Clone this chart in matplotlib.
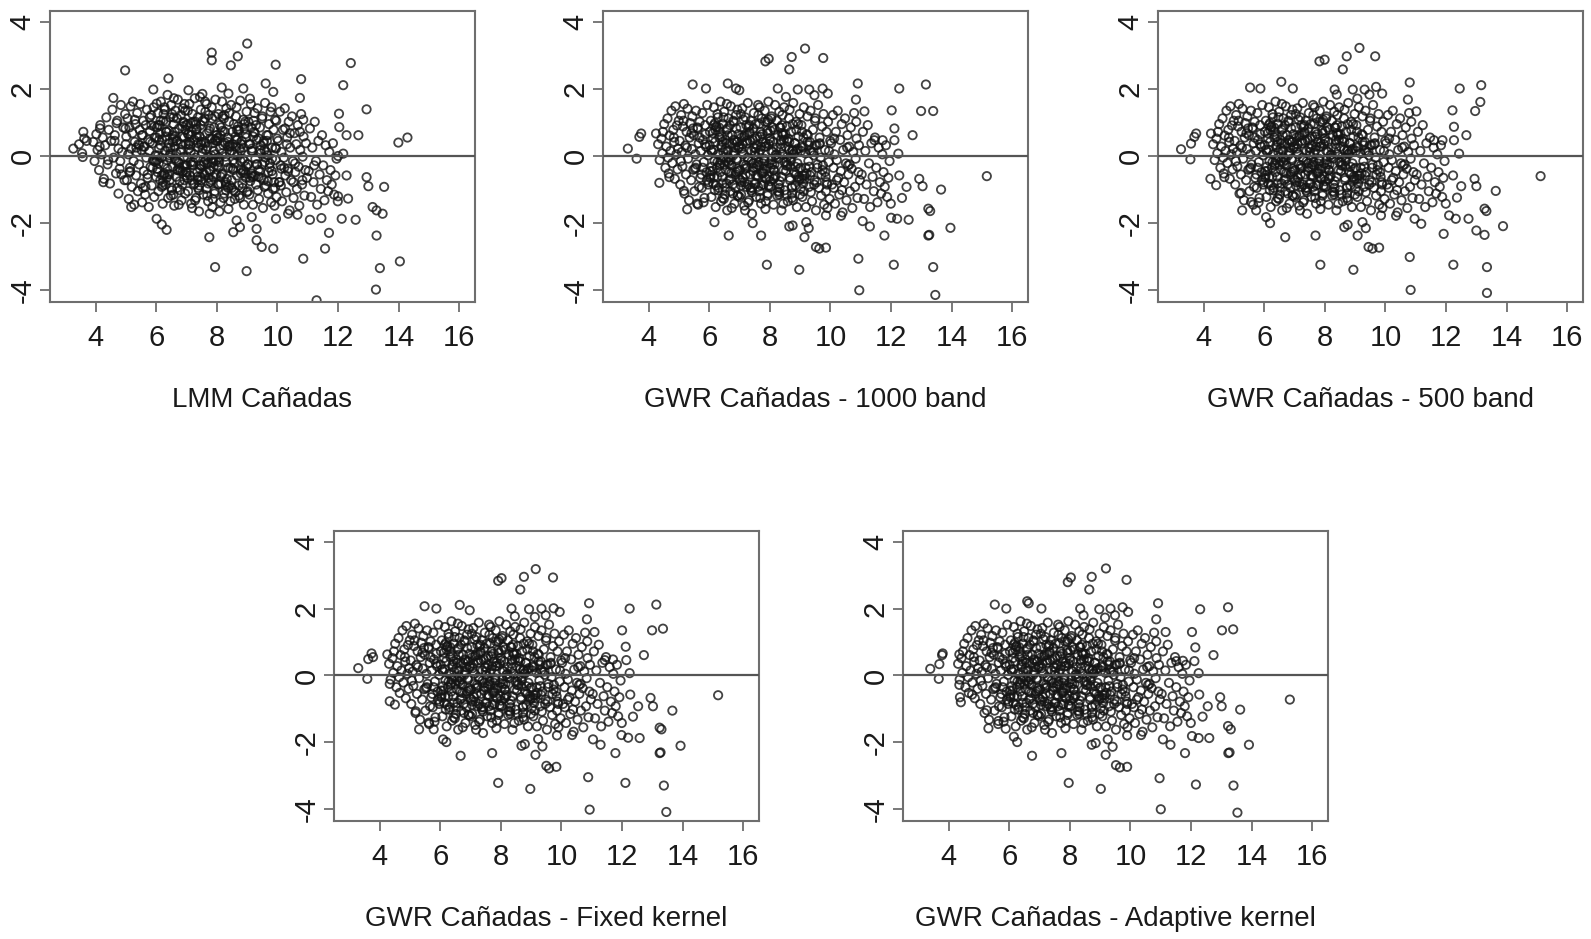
import numpy as np
import matplotlib
matplotlib.use('Agg')
from matplotlib import pyplot as plt

plt.rcParams['font.family'] = ['Liberation Sans', 'DejaVu Sans']
plt.rcParams['axes.unicode_minus'] = False

# Panel titles (x labels under each residual plot)
titles = ['LMM Cañadas', 'GWR Cañadas - 1000 band', 'GWR Cañadas - 500 band',
          'GWR Cañadas - Fixed kernel', 'GWR Cañadas - Adaptive kernel']
x_ticks = [4, 6, 8, 10, 12, 14, 16]
y_ticks = [-4, -2, 0, 2, 4]

# LMM: fitted values vs residuals, main cloud
lmm_x = [
    3.92, 3.96, 4.02, 4.06, 4.11, 4.15, 4.19, 4.23, 4.27, 4.31,
    4.35, 4.39, 4.43, 4.47, 4.51, 4.55, 4.59, 4.63, 4.67, 4.71,
    4.75, 4.79, 4.83, 4.87, 4.91, 4.95, 4.99, 4.13, 4.41, 4.69,
    4.85, 4.97,
    5.01, 5.03, 5.05, 5.07, 5.09, 5.11, 5.13, 5.15, 5.17, 5.19,
    5.21, 5.23, 5.25, 5.27, 5.29, 5.31, 5.33, 5.35, 5.37, 5.39,
    5.41, 5.43, 5.45, 5.47, 5.49, 5.51, 5.53, 5.55, 5.57, 5.59,
    5.61, 5.63, 5.65, 5.67, 5.69, 5.71, 5.73, 5.75, 5.77, 5.79,
    5.81, 5.83, 5.85, 5.87, 5.89, 5.91, 5.93, 5.95, 5.97, 5.99,
    5.12, 5.34, 5.56, 5.78, 5.94,
    6.01, 6.03, 6.05, 6.07, 6.09, 6.11, 6.13, 6.15, 6.17, 6.19,
    6.21, 6.23, 6.25, 6.27, 6.29, 6.31, 6.33, 6.35, 6.37, 6.39,
    6.41, 6.43, 6.45, 6.47, 6.49, 6.51, 6.53, 6.55, 6.57, 6.59,
    6.61, 6.63, 6.65, 6.67, 6.69, 6.71, 6.73, 6.75, 6.77, 6.79,
    6.81, 6.83, 6.85, 6.87, 6.89, 6.91, 6.93, 6.95, 6.97, 6.99,
    6.02, 6.08, 6.14, 6.22, 6.28, 6.36, 6.42, 6.48, 6.56, 6.62,
    6.68, 6.74, 6.82, 6.88, 6.94, 6.04, 6.18, 6.32, 6.46, 6.58,
    6.72, 6.86, 6.96, 6.12, 6.26, 6.44, 6.54, 6.66, 6.78, 6.92,
    6.06, 6.34, 6.52, 6.76, 6.98,
    7.01, 7.03, 7.05, 7.07, 7.09, 7.11, 7.13, 7.15, 7.17, 7.19,
    7.21, 7.23, 7.25, 7.27, 7.29, 7.31, 7.33, 7.35, 7.37, 7.39,
    7.41, 7.43, 7.45, 7.47, 7.49, 7.51, 7.53, 7.55, 7.57, 7.59,
    7.61, 7.63, 7.65, 7.67, 7.69, 7.71, 7.73, 7.75, 7.77, 7.79,
    7.81, 7.83, 7.85, 7.87, 7.89, 7.91, 7.93, 7.95, 7.97, 7.99,
    7.02, 7.08, 7.14, 7.22, 7.28, 7.34, 7.42, 7.48, 7.54, 7.62,
    7.68, 7.74, 7.82, 7.88, 7.94, 7.04, 7.16, 7.26, 7.38, 7.46,
    7.56, 7.66, 7.78, 7.86, 7.96, 7.06, 7.18, 7.32, 7.44, 7.58,
    7.64, 7.72, 7.84, 7.92, 7.98, 7.12, 7.36, 7.52, 7.76, 7.90,
    8.01, 8.03, 8.05, 8.07, 8.10, 8.12, 8.14, 8.17, 8.19, 8.21,
    8.24, 8.26, 8.28, 8.31, 8.33, 8.35, 8.38, 8.40, 8.42, 8.45,
    8.47, 8.49, 8.52, 8.54, 8.56, 8.59, 8.61, 8.63, 8.66, 8.68,
    8.70, 8.73, 8.75, 8.77, 8.80, 8.82, 8.84, 8.87, 8.89, 8.91,
    8.94, 8.96, 8.98, 8.02, 8.09, 8.16, 8.23, 8.30, 8.37, 8.44,
    8.51, 8.58, 8.65, 8.72, 8.79, 8.86, 8.93, 8.99, 8.06, 8.18,
    8.29, 8.41, 8.53, 8.64, 8.76, 8.88, 8.97, 8.13, 8.36, 8.57,
    8.08, 8.27, 8.48, 8.69, 8.85,
    9.02, 9.04, 9.07, 9.09, 9.12, 9.14, 9.17, 9.19, 9.22, 9.24,
    9.27, 9.29, 9.32, 9.34, 9.37, 9.39, 9.42, 9.44, 9.47, 9.49,
    9.52, 9.54, 9.57, 9.59, 9.62, 9.64, 9.67, 9.69, 9.72, 9.74,
    9.77, 9.79, 9.82, 9.84, 9.87, 9.89, 9.92, 9.94, 9.97, 9.99,
    9.05, 9.15, 9.25, 9.35, 9.45, 9.55, 9.65, 9.75, 9.85, 9.95,
    9.10, 9.30, 9.50, 9.70, 9.90, 9.20, 9.60, 9.80,
    10.02, 10.05, 10.08, 10.10, 10.13, 10.15, 10.18, 10.21, 10.24, 10.26,
    10.29, 10.32, 10.34, 10.37, 10.40, 10.42, 10.45, 10.48, 10.51, 10.53,
    10.56, 10.59, 10.62, 10.64, 10.67, 10.70, 10.72, 10.75, 10.78, 10.81,
    10.83, 10.86, 10.89, 10.92, 10.94, 10.97, 10.11, 10.35, 10.58, 10.85,
    10.25, 10.66,
    11.03, 11.07, 11.11, 11.15, 11.19, 11.23, 11.27, 11.31, 11.35, 11.39,
    11.43, 11.47, 11.51, 11.55, 11.59, 11.63, 11.67, 11.71, 11.75, 11.79,
    11.83, 11.87, 11.91, 11.95, 11.99, 11.45,
]
lmm_y = [
    0.42, -0.15, 0.65, 0.18, -0.42, 0.92, 0.05, 0.55, -0.68, 0.32,
    1.15, -0.25, 0.78, -0.82, 0.45, 1.38, -0.05, 0.62, -0.52, 1.05,
    0.22, -0.38, 1.52, 0.12, 0.85, -0.72, 0.35, 0.28, -0.12, 0.98,
    -0.55, 1.25,
    0.58, -0.72, 1.12, 0.05, -1.28, 0.85, -0.35, 1.48, 0.22, -0.92,
    0.68, 1.62, -0.15, -1.45, 0.42, 0.95, -0.58, 0.12, 1.28, -1.05,
    0.35, -0.25, 0.78, 1.55, -0.82, 0.18, -1.38, 0.62, 1.05, -0.45,
    0.28, -1.15, 0.92, -0.05, 1.38, -0.65, 0.48, -1.52, 0.15, 0.75,
    -0.32, 1.22, -0.88, 0.38, -0.12, 1.45, -1.22, 0.55, 0.02, -0.62,
    -0.48, 0.25, -0.95, 1.15, 0.88,
    0.55, -0.38, 1.28, -1.05, 0.22, 0.92, -0.72, 1.62, -0.05, 0.48,
    -1.42, 1.05, -0.25, 1.45, 0.15, -0.85, 0.72, -0.12, 1.82, -1.25,
    0.38, -0.55, 1.15, 0.08, 1.52, -1.02, 0.62, -0.32, 0.95, -1.48,
    0.28, 1.35, -0.62, 0.45, -0.95, 1.68, -0.18, 0.82, -0.75, 0.12,
    1.22, -1.32, 0.58, -0.45, 1.02, -0.02, 1.55, -1.12, 0.35, -0.58,
    0.85, -0.22, 0.32, -0.78, 1.38, -0.38, 0.75, -1.18, 0.52, -0.08,
    1.12, -1.45, 0.18, 1.42, -0.28, -0.48, -0.92, 1.02, 0.25, 1.72,
    -0.42, -0.85, 0.78, 0.65, -0.52, -0.72, 0.42, -0.15, -1.02, 0.55,
    0.02, -0.65, 1.25, -0.35, 0.92,
    -0.28, 0.95, -1.05, 0.35, 1.55, -0.58, 0.12, -1.42, 0.72, 1.25,
    -0.18, -0.85, 0.48, 1.72, -0.05, -1.25, 0.82, -0.48, 1.15, 0.25,
    -1.65, 0.58, -0.28, 1.38, -0.72, 0.08, 1.05, -1.15, 0.42, -0.55,
    1.62, -0.12, -0.98, 0.68, 0.28, -1.35, 1.22, -0.42, 0.52, -0.78,
    0.02, 1.45, -1.52, 0.38, -0.32, 0.85, -1.05, 1.68, -0.15, 0.62,
    -0.65, 0.22, -0.18, 1.02, -1.32, 0.55, -0.88, 0.35, -0.52, 1.32,
    -1.18, 0.75, -0.08, -0.62, 1.18, 1.35, -0.72, 0.05, -0.95, 0.92,
    -0.25, 1.55, -0.45, -1.28, 0.45, 0.65, -1.55, 0.78, -0.38, -0.18,
    0.18, -0.82, 1.12, -1.12, -0.55, 0.32, -0.62, 1.85, -1.72, 0.15,
    0.52, -0.85, 1.25, -0.18, 0.22, -1.38, 0.85, 1.62, -0.52, 0.32,
    -1.12, 0.72, -0.02, 1.42, -0.68, 0.42, -1.58, 1.02, 0.12, -0.35,
    1.52, -0.95, 0.35, -0.12, 0.95, -1.28, 0.58, 1.18, -0.58, 0.02,
    0.78, -1.18, 0.22, 1.65, -0.42, 0.45, -0.82, 1.08, -1.45, -0.15,
    0.65, -0.65, 1.32, -0.28, 0.92, -0.55, 1.12, -1.02, 0.28, -1.35,
    0.72, -0.22, 1.45, -0.88, 0.15, -0.48, 1.02, -1.08, -0.05, 0.08,
    -0.78, 1.28, -0.38, 0.48, -1.25, 0.25, -0.32, -0.62, 0.55, 0.05,
    -1.65, 0.38, -0.72, 0.88, -0.95,
    -0.25, 1.02, -1.15, 0.35, 1.55, -0.58, 0.15, -1.45, 0.72, 1.28,
    -0.08, -0.85, 0.48, 1.42, -0.42, -1.28, 0.85, 0.18, -0.65, 1.12,
    -1.55, 0.38, -0.18, 1.58, -0.88, 0.62, 0.02, -1.12, 0.95, -0.35,
    1.32, -1.38, 0.25, -0.55, 0.78, -0.78, 1.08, -0.12, -1.22, 0.52,
    0.35, -0.52, 0.68, -1.02, 0.08, -0.72, 0.45, -0.22, -0.98, 0.22,
    -0.75, -0.25, 1.18, -0.48, -1.48, 0.58, -0.05, 1.45,
    0.45, -0.78, 1.32, -0.28, 0.12, -1.35, 0.78, -0.05, 1.42, -0.58,
    -1.08, 0.55, -0.38, 1.02, -1.62, 0.25, -0.72, 1.18, -0.15, -1.25,
    0.68, -0.48, 0.35, -0.98, 0.92, -0.32, -1.48, 0.18, 1.25, -0.85,
    -0.02, 0.58, -1.18, -0.42, 0.38, -0.65, -0.88, -1.72, -0.22, 1.08,
    0.82, -1.75,
    -0.45, 0.82, -1.22, 0.25, -0.78, 1.02, -0.15, -1.45, 0.45, -0.55,
    -0.98, 0.62, -0.28, -1.32, 0.32, -0.72, -1.05, 0.12, -0.42, -0.85,
    0.38, -1.15, -0.58, -0.08, -1.35, -1.85,
]
# LMM: extra points in the darkest part of the cloud
lmm_dense_x = [
    5.58, 5.71, 5.84, 5.97, 6.09, 6.21, 6.33, 6.45, 6.57, 6.69,
    6.81, 6.93, 7.05, 7.17, 7.29, 7.41, 7.53, 7.65, 7.77, 7.89,
    8.01, 8.13, 8.25, 8.37, 8.49, 8.61, 8.73, 8.85, 8.97, 9.09,
    9.21, 9.33, 9.45, 9.57, 9.69, 9.81, 9.93, 10.07, 10.22, 10.41,
    5.64, 5.79, 5.93, 6.06, 6.19, 6.31, 6.44, 6.56, 6.68, 6.79,
    6.91, 7.03, 7.14, 7.26, 7.38, 7.49, 7.61, 7.72, 7.84, 7.95,
    8.07, 8.19, 8.31, 8.43, 8.55, 8.67, 8.79, 8.91, 9.03, 9.16,
    9.29, 9.42, 9.55, 9.68, 9.82, 9.96, 10.13, 10.31, 10.52, 10.74,
    6.02, 6.14, 6.26, 6.38, 6.50, 6.62, 6.74, 6.86, 6.98, 7.10,
    7.22, 7.34, 7.46, 7.58, 7.70, 7.82, 7.94, 8.06, 8.18, 8.30,
    8.42, 8.54, 8.66, 8.78, 8.90, 9.02, 9.14, 9.26, 9.38, 9.50,
    4.62, 4.81, 4.98, 5.14, 5.29, 5.44, 6.37, 6.61, 6.88, 7.13,
    7.37, 7.62, 7.87, 8.12, 8.37, 8.63, 8.88, 9.13, 9.38, 9.64,
    5.52, 5.88, 6.24, 6.66, 7.01, 7.31, 7.69, 8.04, 8.42, 8.81,
    9.18, 9.57, 9.92, 10.35, 10.82, 11.21, 6.95, 7.48, 8.22, 8.95,
]
lmm_dense_y = [
    0.28, -0.55, 0.92, -0.18, 0.48, -0.88, 0.72, -0.05, 1.15, -0.42,
    0.35, -0.72, 0.65, -0.25, 1.02, -1.02, 0.22, -0.48, 0.82, -0.12,
    0.45, -0.82, 1.22, -0.35, 0.15, -1.08, 0.75, -0.08, 0.55, -0.65,
    1.05, -0.25, 0.32, -0.92, 0.62, -0.45, 0.25, -0.78, -0.35, 0.68,
    -0.92, 0.42, -0.15, 0.92, -0.58, 0.58, 0.02, -1.15, 0.45, -0.45,
    0.98, -0.05, 0.62, -0.82, 0.38, -0.28, 1.12, -0.65, 0.52, 0.05,
    -0.85, 0.75, -0.18, 0.28, -1.02, 0.48, -0.52, 0.82, -0.25, 0.22,
    0.92, -0.45, 0.45, -0.75, -0.08, 1.05, -0.38, 0.35, -0.78, 0.72,
    -0.12, 1.05, -0.55, 0.25, -0.95, 0.58, -0.22, 0.88, -0.48, 0.42,
    -0.28, 0.65, -0.62, 1.02, -0.02, -0.72, 0.48, -0.35, 1.18, -0.85,
    0.32, -0.42, 0.78, -0.15, 0.95, -1.05, 0.15, -0.58, 0.52, -0.25,
    0.45, -0.15, 0.82, -0.45, 1.08, 0.32, -0.55, 0.72, -0.32, 0.98,
    -0.72, 0.38, -0.18, 0.62, -0.95, 0.28, -0.42, 0.85, -0.62, 0.12,
    0.62, -0.35, 1.25, 0.08, -0.48, 0.95, -0.22, 0.55, -0.88, 0.35,
    -0.62, 0.18, -0.95, -0.45, -0.72, -0.28, 1.35, 0.42, -1.25, -0.52,
]
# LMM: scattered points outside the main cloud (x, residual)
lmm_outer = [
    (3.26, 0.22), (3.45, 0.35), (3.55, 0.08), (3.57, -0.03), (3.59, 0.72),
    (3.62, 0.52), (3.70, 0.45), (4.14, 0.82), (4.25, -0.78), (4.58, 1.73),
    (4.75, -1.12), (4.97, 2.55), (5.17, -1.52), (5.90, 1.98), (6.01, 1.56),
    (6.01, -1.87), (6.18, -2.04), (6.34, -2.20), (6.40, 2.31), (7.06, 1.96),
    (7.44, 1.76), (7.75, -2.42), (7.83, 3.08), (7.83, 2.85), (7.94, -3.31),
    (8.16, 2.04), (8.38, 1.86), (8.46, 2.70), (8.54, -2.27), (8.65, -1.92),
    (8.69, 2.97), (8.76, -2.12), (8.87, 2.01), (8.98, -3.43), (9.00, 3.35),
    (9.09, 1.71), (9.15, -1.82), (9.31, -2.17), (9.31, -2.51), (9.48, -2.71),
    (9.61, 2.16), (9.86, 1.91), (9.86, -2.76), (9.94, 2.72), (9.95, -1.87),
    (10.74, 1.73), (10.78, 2.29), (10.85, -3.06), (11.07, -1.90), (11.29, -4.30),
    (11.57, -2.76), (11.70, -2.29), (12.00, 0.00), (12.00, -1.20), (12.03, 1.26),
    (12.04, 0.86), (12.12, -1.87), (12.17, 2.11), (12.17, 0.07), (12.28, 0.62),
    (12.28, -0.58), (12.33, -1.27), (12.42, 2.77), (12.58, -1.90), (12.67, 0.62),
    (12.94, 1.39), (12.94, -0.63), (13.00, -0.90), (13.14, -1.52), (13.25, -3.98),
    (13.27, -1.62), (13.27, -2.37), (13.38, -3.34), (13.47, -1.72), (13.52, -0.92),
    (13.99, 0.40), (14.04, -3.14), (14.29, 0.55),
]

# GWR models: the main clouds look the same in all four panels
gwr_x = [
    4.31, 4.36, 4.42, 4.45, 4.51, 4.55, 4.58, 4.62, 4.66, 4.69,
    4.72, 4.75, 4.78, 4.81, 4.84, 4.86, 4.88, 4.91, 4.93, 4.95,
    4.97, 4.99, 4.47, 4.64, 4.83,
    5.02, 5.04, 5.07, 5.09, 5.11, 5.13, 5.16, 5.18, 5.21, 5.23,
    5.25, 5.28, 5.30, 5.33, 5.35, 5.37, 5.40, 5.42, 5.44, 5.47,
    5.49, 5.51, 5.54, 5.56, 5.58, 5.61, 5.63, 5.65, 5.68, 5.70,
    5.72, 5.75, 5.77, 5.79, 5.82, 5.84, 5.86, 5.89, 5.91, 5.93,
    5.96, 5.98, 5.06, 5.26, 5.46, 5.66, 5.87, 5.15, 5.55, 5.81,
    6.01, 6.03, 6.05, 6.07, 6.09, 6.11, 6.13, 6.15, 6.17, 6.19,
    6.21, 6.23, 6.25, 6.27, 6.29, 6.31, 6.33, 6.35, 6.37, 6.39,
    6.41, 6.43, 6.45, 6.47, 6.49, 6.51, 6.53, 6.55, 6.57, 6.59,
    6.61, 6.63, 6.65, 6.67, 6.69, 6.71, 6.73, 6.75, 6.77, 6.79,
    6.81, 6.83, 6.85, 6.87, 6.89, 6.91, 6.93, 6.95, 6.97, 6.99,
    6.02, 6.08, 6.14, 6.22, 6.28, 6.36, 6.42, 6.48, 6.56, 6.62,
    6.68, 6.74, 6.82, 6.88, 6.94, 6.04, 6.18, 6.32, 6.46, 6.58,
    6.72, 6.86, 6.96, 6.12, 6.26, 6.44, 6.54, 6.66, 6.78, 6.92,
    7.01, 7.03, 7.05, 7.07, 7.09, 7.11, 7.13, 7.15, 7.17, 7.19,
    7.21, 7.23, 7.25, 7.27, 7.29, 7.31, 7.33, 7.35, 7.37, 7.39,
    7.41, 7.43, 7.45, 7.47, 7.49, 7.51, 7.53, 7.55, 7.57, 7.59,
    7.61, 7.63, 7.65, 7.67, 7.69, 7.71, 7.73, 7.75, 7.77, 7.79,
    7.81, 7.83, 7.85, 7.87, 7.89, 7.91, 7.93, 7.95, 7.97, 7.99,
    7.02, 7.08, 7.14, 7.22, 7.28, 7.34, 7.42, 7.48, 7.54, 7.62,
    7.68, 7.74, 7.82, 7.88, 7.94, 7.04, 7.16, 7.26, 7.38, 7.46,
    7.56, 7.66, 7.78, 7.86, 7.96, 7.06, 7.18, 7.32, 7.44, 7.58,
    7.64, 7.72, 7.84, 7.92, 7.98,
    8.01, 8.03, 8.05, 8.07, 8.10, 8.12, 8.14, 8.17, 8.19, 8.21,
    8.24, 8.26, 8.28, 8.31, 8.33, 8.35, 8.38, 8.40, 8.42, 8.45,
    8.47, 8.49, 8.52, 8.54, 8.56, 8.59, 8.61, 8.63, 8.66, 8.68,
    8.70, 8.73, 8.75, 8.77, 8.80, 8.82, 8.84, 8.87, 8.89, 8.91,
    8.94, 8.96, 8.98, 8.02, 8.09, 8.16, 8.23, 8.30, 8.37, 8.44,
    8.51, 8.58, 8.65, 8.72, 8.79, 8.86, 8.93, 8.99, 8.06, 8.18,
    8.29, 8.41, 8.53, 8.64, 8.76, 8.88, 8.97, 8.13, 8.36, 8.57,
    9.02, 9.04, 9.07, 9.09, 9.12, 9.14, 9.17, 9.19, 9.22, 9.24,
    9.27, 9.29, 9.32, 9.34, 9.37, 9.39, 9.42, 9.44, 9.47, 9.49,
    9.52, 9.54, 9.57, 9.59, 9.62, 9.64, 9.67, 9.69, 9.72, 9.74,
    9.77, 9.79, 9.82, 9.84, 9.87, 9.89, 9.92, 9.94, 9.97, 9.99,
    9.05, 9.15, 9.25, 9.35, 9.45, 9.55, 9.65, 9.75, 9.85, 9.95,
    9.10, 9.30, 9.50, 9.70, 9.90,
    10.02, 10.05, 10.08, 10.10, 10.13, 10.15, 10.18, 10.21, 10.24, 10.26,
    10.29, 10.32, 10.34, 10.37, 10.40, 10.42, 10.45, 10.48, 10.51, 10.53,
    10.56, 10.59, 10.62, 10.64, 10.67, 10.70, 10.72, 10.75, 10.78, 10.81,
    10.83, 10.86, 10.89, 10.92, 10.94, 10.97, 10.11, 10.35, 10.58, 10.85,
    11.03, 11.07, 11.11, 11.15, 11.19, 11.23, 11.27, 11.31, 11.35, 11.39,
    11.43, 11.47, 11.51, 11.55, 11.59, 11.63, 11.67, 11.71, 11.75, 11.79,
    11.83, 11.87, 11.91, 11.95, 11.99,
]
gwr_y = [
    0.35, -0.12, 0.52, 0.08, 0.95, -0.35, 0.28, 1.12, -0.52, 0.61,
    0.15, 1.35, -0.21, 0.78, 0.42, -0.68, 1.48, 0.05, 0.91, -0.40,
    0.22, 1.05, 0.72, -0.05, 0.55,
    0.45, -0.85, 1.22, 0.12, -0.31, 0.88, 1.55, -1.12, 0.31, -0.55,
    0.72, 1.41, -0.08, -1.32, 0.55, 0.98, -0.72, 0.21, 1.18, -0.41,
    0.62, -1.05, 0.05, 1.35, -0.25, 0.85, -1.45, 0.38, 1.02, -0.65,
    0.15, -0.95, 1.28, 0.48, -0.18, -1.25, 0.92, 0.28, -0.48, 1.52,
    0.02, -0.78, -0.15, 0.25, 0.82, -0.92, 0.65, 1.05, -0.35, -1.38,
    0.32, -0.45, 1.05, -1.22, 0.12, 0.68, -0.82, 1.45, -0.15, 0.42,
    -1.52, 0.88, -0.35, 1.25, 0.05, -0.95, 0.55, -0.22, 1.62, -1.35,
    0.25, -0.62, 0.95, -0.05, 1.32, -1.15, 0.48, -0.42, 0.78, -1.62,
    0.15, 1.12, -0.72, 0.35, -1.05, 1.48, -0.28, 0.62, -0.85, 0.02,
    1.02, -1.42, 0.45, -0.55, 0.82, -0.12, 1.38, -1.18, 0.28, -0.68,
    0.72, -0.32, 0.18, -0.88, 1.15, -0.48, 0.58, -1.28, 0.38, -0.18,
    0.92, -1.55, 0.08, 1.22, -0.38, -0.58, -1.02, 0.85, 0.12, 1.55,
    -0.52, -0.95, 0.65, 0.52, -0.62, -0.82, 0.22, -0.25, -1.12, 0.42,
    -0.42, 0.85, -1.15, 0.22, 1.42, -0.65, 0.05, -1.48, 0.62, 1.15,
    -0.28, -0.92, 0.38, 1.58, -0.12, -1.32, 0.72, -0.55, 1.05, 0.15,
    -1.72, 0.48, -0.35, 1.28, -0.82, 0.02, 0.95, -1.22, 0.32, -0.62,
    1.52, -0.18, -1.05, 0.58, 0.18, -1.42, 1.12, -0.48, 0.42, -0.85,
    -0.08, 1.35, -1.58, 0.28, -0.38, 0.75, -1.12, 1.62, -0.22, 0.52,
    -0.72, 0.12, -0.25, 0.92, -1.38, 0.45, -0.95, 0.25, -0.58, 1.22,
    -1.25, 0.65, -0.15, -0.68, 1.08, 1.25, -0.78, -0.05, -1.02, 0.82,
    -0.32, 1.45, -0.52, -1.35, 0.35, 0.55, -1.62, 0.68, -0.45, -0.25,
    0.08, -0.88, 1.02, -1.18, -0.62,
    0.45, -0.92, 1.18, -0.25, 0.12, -1.45, 0.78, 1.52, -0.58, 0.25,
    -1.18, 0.62, -0.08, 1.32, -0.75, 0.35, -1.62, 0.92, 0.05, -0.42,
    1.45, -1.02, 0.28, -0.18, 0.88, -1.35, 0.52, 1.12, -0.65, -0.05,
    0.72, -1.25, 0.15, 1.58, -0.48, 0.38, -0.88, 1.02, -1.52, -0.22,
    0.58, -0.72, 1.25, -0.35, 0.85, -0.62, 1.05, -1.08, 0.22, -1.42,
    0.65, -0.28, 1.38, -0.95, 0.08, -0.55, 0.95, -1.15, -0.12, 0.02,
    -0.85, 1.22, -0.45, 0.42, -1.32, 0.18, -0.38, -0.68, 0.48, -0.02,
    -0.35, 0.92, -1.22, 0.25, 1.45, -0.68, 0.08, -1.52, 0.65, 1.18,
    -0.15, -0.92, 0.42, 1.35, -0.48, -1.35, 0.78, 0.12, -0.72, 1.05,
    -1.62, 0.32, -0.25, 1.52, -0.95, 0.55, -0.05, -1.18, 0.88, -0.42,
    1.25, -1.45, 0.18, -0.62, 0.72, -0.85, 1.02, -0.18, -1.28, 0.45,
    0.28, -0.58, 0.62, -1.08, 0.02, -0.78, 0.38, -0.28, -1.05, 0.15,
    -0.82, -0.32, 1.12, -0.55, -1.55,
    0.38, -0.85, 1.22, -0.35, 0.05, -1.42, 0.72, -0.12, 1.35, -0.65,
    -1.15, 0.48, -0.45, 0.95, -1.68, 0.18, -0.78, 1.12, -0.22, -1.32,
    0.62, -0.55, 0.28, -1.05, 0.85, -0.38, -1.55, 0.12, 1.28, -0.92,
    -0.08, 0.52, -1.25, -0.48, 0.32, -0.72, -0.95, -1.78, -0.28, 1.02,
    -0.55, 0.72, -1.28, 0.15, -0.85, 0.92, -0.22, -1.52, 0.38, -0.62,
    -1.05, 0.55, -0.35, -1.38, 0.25, -0.78, -1.12, 0.05, -0.48, -0.92,
    0.32, -1.22, -0.65, -0.15, -1.42,
]
# GWR: extra points in the darkest part of the cloud
gwr_dense_x = [
    6.06, 6.16, 6.24, 6.34, 6.43, 6.52, 6.61, 6.70, 6.79, 6.88,
    6.97, 7.07, 7.15, 7.24, 7.33, 7.41, 7.50, 7.60, 7.69, 7.77,
    7.86, 7.95, 8.04, 8.13, 8.22, 8.31, 8.39, 8.48, 8.57, 8.66,
    8.75, 8.84, 8.92, 9.01, 9.11, 9.21, 9.33, 9.46, 6.10, 6.20,
    6.30, 6.40, 6.50, 6.60, 6.71, 6.81, 6.90, 7.00, 7.10, 7.20,
    7.30, 7.40, 7.51, 7.61, 7.71, 7.81, 7.91, 8.01, 8.11, 8.21,
    8.32, 8.43, 8.53, 8.63, 8.73, 8.83, 8.95, 9.06, 9.18, 9.38,
    5.62, 5.74, 5.86, 5.96, 6.27, 6.47, 6.66, 6.85, 7.05, 7.25,
    7.45, 7.65, 7.85, 8.05, 8.26, 8.46, 8.67, 8.87, 9.08, 9.28,
    5.52, 5.68, 5.92, 6.15, 6.38, 6.57, 6.76, 6.96, 7.13, 7.36,
    7.53, 7.73, 7.93, 8.15, 8.34, 8.55, 8.78, 8.98, 9.24, 9.56,
    6.03, 6.33, 6.63, 6.93, 7.23, 7.53, 7.83, 8.13, 8.43, 8.73,
    9.03, 9.33, 9.63, 9.88, 10.12, 10.38, 10.63, 5.41, 5.78, 6.19,
    6.55, 6.92, 7.27, 7.64, 8.02, 8.38, 8.74, 9.12, 9.49, 9.82,
    10.21, 10.55, 6.44, 6.83, 7.18, 7.58, 7.97, 8.33, 8.69, 9.05,
]
gwr_dense_y = [
    0.18, -0.62, 0.85, -0.28, 0.42, -0.95, 0.62, -0.12, 1.05, -0.48,
    0.25, -0.78, 0.58, -0.35, 0.92, -1.08, 0.12, -0.58, 0.72, -0.22,
    0.38, -0.88, 1.12, -0.42, 0.05, -1.15, 0.68, -0.18, 0.45, -0.72,
    0.95, -0.32, 0.22, -0.98, 0.55, -0.52, 0.15, -0.85, -0.45, 0.78,
    -1.02, 0.32, -0.25, 0.82, -0.68, 0.48, -0.08, -1.22, 0.35, -0.55,
    0.88, -0.15, 0.52, -0.92, 0.28, -0.38, 1.02, -0.75, 0.42, -0.05,
    -0.95, 0.65, -0.28, 0.18, -1.12, 0.38, -0.62, 0.72, -0.35, 0.12,
    0.82, -0.55, 0.35, -0.85, -0.18, 1.15, -0.48, 0.25, -0.88, 0.62,
    -0.22, 0.95, -0.65, 0.15, -1.05, 0.48, -0.32, 0.78, -0.58, 0.32,
    -0.38, 0.55, -0.72, 0.92, -0.12, -0.82, 0.38, -0.45, 1.08, -0.95,
    0.22, -0.52, 0.68, -0.25, 0.85, -1.15, 0.05, -0.68, 0.42, -0.35,
    -0.65, 0.72, -0.05, -1.18, 0.45, -0.82, 0.28, -0.42, 0.62, -0.92,
    0.15, -0.58, 0.35, -0.78, 0.52, -1.02, -0.25, 0.68, -0.35, 0.98,
    -0.15, 0.42, -0.85, -0.28, 0.75, -0.62, 0.18, -1.05, 0.32, -0.48,
    -0.72, 0.25, -1.25, 0.12, -0.38, 0.58, -0.92, 0.85, -0.15, -0.68,
]

# GWR: scattered points outside the main cloud, one list per panel
gwr1000_outer = [
    (3.31, 0.22), (3.69, 0.57), (3.75, 0.67), (3.60, -0.08), (4.24, 0.67),
    (4.35, -0.80), (4.68, -0.63), (5.16, -1.04), (5.27, -1.59), (5.60, -1.42),
    (5.45, 2.13), (5.89, 2.01), (6.61, 2.16), (6.88, 2.01), (6.99, 1.96),
    (6.17, -1.97), (6.64, -2.37), (7.43, -2.00), (7.71, -2.37), (7.90, -3.24),
    (7.85, 2.82), (7.96, 2.90), (8.64, 2.58), (8.72, 2.95), (9.16, 3.20),
    (9.76, 2.92), (8.26, 2.01), (8.53, 1.76), (8.92, 1.98), (9.30, 1.98),
    (9.47, 1.81), (9.74, 2.01), (9.91, 1.86), (8.97, -3.39), (9.14, -2.42),
    (8.64, -2.10), (8.75, -2.07), (9.20, -1.97), (9.28, -2.15), (9.52, -2.71),
    (9.63, -2.76), (9.85, -2.73), (9.85, -1.77), (10.90, 2.16), (10.84, 1.68),
    (11.12, 1.33), (10.92, -3.06), (10.95, -4.00), (11.06, -1.94), (11.30, -2.10),
    (11.78, -2.37), (12.09, -3.24), (12.00, -1.84), (12.20, -1.87), (12.58, -1.90),
    (12.27, 2.01), (12.02, 1.36), (12.99, 1.34), (13.39, 1.34), (13.15, 2.13),
    (12.71, 0.62), (12.11, 0.82), (12.11, 0.47), (11.72, 0.47), (11.45, 0.47),
    (12.24, 0.07), (12.93, -0.68), (13.04, -0.90), (13.65, -1.00), (12.51, -0.92),
    (12.36, -1.25), (12.27, -0.58), (13.23, -1.57), (13.29, -1.64), (13.23, -2.37),
    (13.26, -2.35), (13.96, -2.14), (13.39, -3.31), (13.46, -4.14), (15.16, -0.60),
]
gwr500_outer = [
    (3.25, 0.20), (3.58, 0.37), (3.69, 0.57), (3.75, 0.67), (3.56, -0.10),
    (4.24, 0.67), (4.22, -0.68), (4.41, -0.87), (4.68, -0.63), (5.23, -1.10),
    (5.27, -1.62), (5.56, -1.37), (5.73, -1.62), (5.53, 2.04), (5.87, 2.01),
    (6.56, 2.21), (6.94, 2.01), (6.06, -1.82), (6.19, -2.00), (6.69, -2.42),
    (7.69, -2.37), (7.85, -3.24), (7.82, 2.82), (7.99, 2.87), (8.59, 2.58),
    (8.72, 2.97), (9.14, 3.22), (9.66, 2.97), (8.32, 1.98), (8.39, 1.83),
    (8.92, 1.98), (9.07, 1.71), (9.31, 1.98), (9.47, 1.83), (9.69, 2.06),
    (9.89, 1.86), (8.94, -3.39), (9.08, -2.37), (8.64, -2.12), (8.75, -2.05),
    (9.24, -1.97), (9.35, -2.15), (9.44, -2.71), (9.57, -2.76), (9.79, -2.73),
    (9.85, -1.77), (10.80, 2.19), (10.74, 1.68), (11.02, 1.33), (10.80, -3.01),
    (10.83, -3.99), (10.96, -1.87), (11.18, -2.02), (11.92, -2.32), (12.24, -3.24),
    (12.10, -1.77), (12.32, -1.87), (12.74, -1.87), (12.45, 2.01), (12.21, 1.36),
    (12.96, 1.34), (13.13, 1.61), (13.16, 2.11), (12.67, 0.62), (12.26, 0.87),
    (12.26, 0.47), (11.88, 0.47), (11.60, 0.47), (12.43, 0.07), (12.94, -0.68),
    (13.00, -0.90), (13.64, -1.04), (12.50, -0.90), (12.36, -1.24), (12.23, -0.58),
    (13.00, -2.22), (13.27, -1.57), (13.33, -1.64), (13.27, -2.35), (13.88, -2.09),
    (13.35, -3.31), (13.35, -4.08), (15.12, -0.60),
]
fixed_outer = [
    (3.29, 0.22), (3.62, 0.49), (3.73, 0.66), (3.78, 0.55), (3.59, -0.10),
    (4.25, 0.63), (4.33, -0.25), (4.33, -0.77), (4.50, -0.87), (5.19, -1.07),
    (5.30, -1.61), (5.62, -1.41), (5.78, -1.61), (5.48, 2.07), (5.87, 2.00),
    (6.64, 2.11), (6.97, 1.95), (6.09, -1.91), (6.20, -1.99), (6.67, -2.40),
    (7.71, -2.32), (7.91, -3.21), (7.91, 2.83), (8.02, 2.91), (8.64, 2.57),
    (8.76, 2.95), (9.15, 3.18), (9.72, 2.93), (8.35, 2.00), (8.46, 1.77),
    (8.93, 1.98), (9.12, 1.75), (9.34, 2.00), (9.48, 1.80), (9.74, 2.01),
    (9.94, 1.90), (8.97, -3.39), (9.14, -2.37), (8.68, -2.10), (8.79, -2.05),
    (9.23, -1.90), (9.37, -2.12), (9.50, -2.70), (9.59, -2.78), (9.83, -2.73),
    (9.85, -1.79), (10.91, 2.16), (10.84, 1.68), (11.09, 1.30), (10.88, -3.04),
    (10.93, -4.01), (11.04, -1.91), (11.29, -2.07), (11.78, -2.32), (12.11, -3.21),
    (11.98, -1.78), (12.20, -1.86), (12.58, -1.87), (12.25, 2.00), (12.00, 1.35),
    (12.99, 1.35), (13.35, 1.40), (13.13, 2.12), (12.72, 0.61), (12.12, 0.86),
    (12.14, 0.46), (11.70, 0.48), (11.43, 0.46), (12.25, 0.07), (12.94, -0.67),
    (13.02, -0.92), (13.66, -1.05), (12.53, -0.92), (12.36, -1.23), (12.27, -0.57),
    (13.24, -1.56), (13.30, -1.61), (13.24, -2.32), (13.27, -2.30), (13.93, -2.10),
    (13.38, -3.29), (13.46, -4.08), (15.17, -0.59),
]
adaptive_outer = [
    (3.39, 0.20), (3.69, 0.34), (3.78, 0.61), (3.80, 0.66), (3.67, -0.10),
    (4.35, 0.63), (4.35, -0.28), (4.37, -0.65), (4.40, -0.80), (4.77, -0.57),
    (5.26, -1.04), (5.31, -1.58), (5.64, -1.36), (5.88, -1.59), (5.52, 2.12),
    (5.90, 2.00), (6.59, 2.22), (6.64, 2.16), (7.06, 2.00), (6.15, -1.83),
    (6.26, -1.99), (6.75, -2.40), (7.72, -2.32), (7.96, -3.21), (7.93, 2.79),
    (8.03, 2.93), (8.64, 2.57), (8.72, 2.95), (9.19, 3.20), (9.87, 2.86),
    (8.34, 2.00), (8.45, 1.80), (8.97, 1.98), (9.16, 1.73), (9.34, 2.00),
    (9.49, 1.80), (9.74, 2.04), (9.92, 1.90), (9.02, -3.39), (9.18, -2.37),
    (8.72, -2.07), (8.85, -2.02), (9.25, -1.91), (9.41, -2.13), (9.52, -2.68),
    (9.65, -2.75), (9.89, -2.73), (9.89, -1.79), (10.91, 2.16), (10.85, 1.68),
    (11.16, 1.30), (10.96, -3.07), (11.00, -4.00), (11.07, -1.91), (11.32, -2.07),
    (11.80, -2.32), (12.16, -3.26), (12.03, -1.81), (12.25, -1.87), (12.60, -1.87),
    (12.30, 1.98), (12.03, 1.30), (13.02, 1.35), (13.39, 1.38), (13.22, 2.04),
    (12.74, 0.61), (12.14, 0.84), (12.11, 0.43), (11.73, 0.44), (11.51, 0.43),
    (12.25, 0.07), (12.96, -0.65), (13.01, -0.92), (13.62, -1.02), (12.55, -0.92),
    (12.38, -1.23), (12.27, -0.57), (13.22, -1.51), (13.31, -1.61), (13.23, -2.32),
    (13.27, -2.30), (13.91, -2.07), (13.40, -3.29), (13.53, -4.10), (15.26, -0.72),
]

W, H = 1591, 939
# axes boxes in pixels: left, top, right, bottom
boxes = [(50, 11, 475, 302), (603, 11, 1028, 302), (1158, 11, 1583, 302),
         (334, 531, 759, 821), (903, 531, 1328, 821)]

lmm_all_x = lmm_x + lmm_dense_x
lmm_all_y = lmm_y + lmm_dense_y
gwr_all_x = gwr_x + gwr_dense_x
gwr_all_y = gwr_y + gwr_dense_y
panels = [
    (lmm_all_x, lmm_all_y, lmm_outer),
    (gwr_all_x, gwr_all_y, gwr1000_outer),
    (gwr_all_x, gwr_all_y, gwr500_outer),
    (gwr_all_x, gwr_all_y, fixed_outer),
    (gwr_all_x, gwr_all_y, adaptive_outer),
]

fig = plt.figure(figsize=(W / 100, H / 100), dpi=100)
frame_col = '#6e6e6e'

for (cx, cy, outer), title, (l, t, r, b) in zip(panels, titles, boxes):
    ax = fig.add_axes([l / W, 1 - b / H, (r - l) / W, (b - t) / H])
    ox = [p[0] for p in outer]
    oy = [p[1] for p in outer]
    xs = np.concatenate([np.array(cx), np.array(ox)])
    ys = np.concatenate([np.array(cy), np.array(oy)])
    ax.scatter(xs, ys, s=36, facecolors='none', edgecolors='#141414',
               linewidths=1.3, alpha=0.8, zorder=2)
    ax.axhline(0, color='#555555', lw=1.6, zorder=3)

    ax.set_xlim(2.49, 16.52)
    ax.set_ylim(-4.35, 4.32)
    ax.set_xticks(x_ticks)
    ax.set_yticks(y_ticks)
    ax.tick_params(direction='out', length=7.5, width=1.3, color=frame_col,
                   labelsize=21, labelcolor='#1a1a1a')
    ax.tick_params(axis='x', pad=8)
    ax.tick_params(axis='y', pad=2, labelrotation=90)
    for lab in ax.get_yticklabels():
        lab.set_verticalalignment('center')
    for sp in ax.spines.values():
        sp.set_color(frame_col)
        sp.set_linewidth(1.5)

    ax.text(0.5, -98 / (b - t), title, transform=ax.transAxes,
            ha='center', va='center', fontsize=20, color='#1a1a1a')

plt.savefig('out.png', dpi=100)
